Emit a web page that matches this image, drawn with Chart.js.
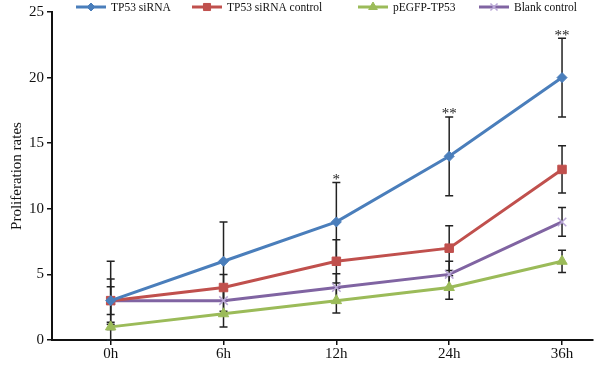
<!DOCTYPE html>
<html>
<head>
<meta charset="utf-8">
<script src="https://cdn.jsdelivr.net/npm/chart.js@4"></script>
<style>
  html, body { margin: 0; padding: 0; background: #fff; }
  #wrap { width: 600px; height: 376px; position: relative; }
</style>
</head>
<body>
<div id="wrap"><canvas id="chart"></canvas></div>
<script>
// Time points
const timeLabels = ['0h', '6h', '12h', '24h', '36h'];

// Series values (mean) and error (+/-)
const siRNA = [3, 6, 9, 14, 20];
const siRNAErr = [3, 3, 3, 3, 3];
const siRNAControl = [3, 4, 6, 7, 13];
const siRNAControlErr = [1.65, 1.0, 1.65, 1.7, 1.8];
const pEGFP = [1, 2, 3, 4, 6];
const pEGFPErr = [0.2, 1.0, 0.95, 0.9, 0.85];
const blank = [3, 3, 4, 5, 9];
const blankErr = [1.05, 0.8, 1.05, 1.0, 1.1];

// Significance marks above TP53 siRNA
const stars = ['', '', '*', '**', '**'];

const yTicks = [0, 5, 10, 15, 20, 25];

const serif = "'Liberation Serif', 'Times New Roman', serif";

const colors = {
  blue: '#4A7EBB',
  red: '#C0504D',
  green: '#9BBB59',
  purple: '#8064A2',
  purpleLight: '#B9A7D6'
};

const toPoints = (arr) => arr.map((v, i) => ({ x: i, y: v }));

// Error bars + asterisks
const errorBars = {
  id: 'errorBars',
  beforeDatasetsDraw(chart) {
    const { ctx, scales: { y } } = chart;
    ctx.save();
    ctx.strokeStyle = '#222';
    ctx.lineWidth = 1.5;
    chart.data.datasets.forEach((ds, di) => {
      const meta = chart.getDatasetMeta(di);
      meta.data.forEach((pt, i) => {
        const v = ds.data[i].y;
        const e = ds.errors[i];
        const top = y.getPixelForValue(v + e);
        const bot = y.getPixelForValue(v - e);
        ctx.beginPath();
        ctx.moveTo(pt.x, top);
        ctx.lineTo(pt.x, bot);
        ctx.moveTo(pt.x - 4, top);
        ctx.lineTo(pt.x + 4, top);
        ctx.moveTo(pt.x - 4, bot);
        ctx.lineTo(pt.x + 4, bot);
        ctx.stroke();
      });
    });
    ctx.restore();
  },
  afterDatasetsDraw(chart) {
    const { ctx, scales: { y } } = chart;
    const meta = chart.getDatasetMeta(0);
    ctx.save();
    ctx.fillStyle = '#222';
    ctx.font = '15px ' + serif;
    ctx.textAlign = 'center';
    ctx.textBaseline = 'bottom';
    meta.data.forEach((pt, i) => {
      if (!stars[i]) return;
      const top = y.getPixelForValue(siRNA[i] + siRNAErr[i]);
      ctx.fillText(stars[i], pt.x, top + 5);
    });
    ctx.restore();
  }
};

// Legend: line with marker, drawn at the top
const lineLegend = {
  id: 'lineLegend',
  afterDraw(chart, args, opts) {
    const { ctx } = chart;
    ctx.save();
    ctx.font = '11.5px ' + serif;
    ctx.textBaseline = 'middle';
    chart.data.datasets.forEach((ds, i) => {
      const x = opts.starts[i];
      const yy = opts.y;
      ctx.strokeStyle = ds.borderColor;
      ctx.lineWidth = 3;
      ctx.beginPath();
      ctx.moveTo(x, yy);
      ctx.lineTo(x + 30, yy);
      ctx.stroke();
      ctx.fillStyle = ds.pointBackgroundColor;
      ctx.strokeStyle = ds.pointBorderColor;
      ctx.lineWidth = ds.pointBorderWidth || 1;
      Chart.helpers.drawPoint(ctx, {
        pointStyle: ds.pointStyle,
        radius: ds.pointRadius - 1,
        borderWidth: ds.pointBorderWidth || 1,
        rotation: 0
      }, x + 15, yy);
      ctx.fillStyle = '#111';
      ctx.fillText(ds.label, x + 35, yy + 1);
    });
    ctx.restore();
  }
};

const ctx = document.getElementById('chart');

new Chart(ctx, {
  type: 'line',
  data: {
    datasets: [
      {
        label: 'TP53 siRNA',
        data: toPoints(siRNA),
        errors: siRNAErr,
        borderColor: colors.blue,
        backgroundColor: colors.blue,
        pointBackgroundColor: colors.blue,
        pointBorderColor: colors.blue,
        pointStyle: 'rectRot',
        pointRadius: 5,
      },
      {
        label: 'TP53 siRNA control',
        data: toPoints(siRNAControl),
        errors: siRNAControlErr,
        borderColor: colors.red,
        backgroundColor: colors.red,
        pointBackgroundColor: colors.red,
        pointBorderColor: colors.red,
        pointStyle: 'rect',
        pointRadius: 6,
      },
      {
        label: 'pEGFP-TP53',
        data: toPoints(pEGFP),
        errors: pEGFPErr,
        borderColor: colors.green,
        backgroundColor: colors.green,
        pointBackgroundColor: colors.green,
        pointBorderColor: colors.green,
        pointStyle: 'triangle',
        pointRadius: 6,
      },
      {
        label: 'Blank control',
        data: toPoints(blank),
        errors: blankErr,
        borderColor: colors.purple,
        backgroundColor: colors.purpleLight,
        pointBackgroundColor: colors.purpleLight,
        pointBorderColor: colors.purpleLight,
        pointStyle: 'crossRot',
        pointRadius: 6,
        pointBorderWidth: 1.5,
      },
    ],
  },
  options: {
    responsive: true,
    maintainAspectRatio: false,
    animation: false,
    layout: {
      padding: { top: 4, right: 0, left: 0, bottom: 13 },
    },
    elements: {
      line: { borderWidth: 3, tension: 0 },
      point: { borderWidth: 1, hoverRadius: 6 },
    },
    scales: {
      x: {
        type: 'linear',
        min: -0.52,
        max: 4.27,
        afterBuildTicks: (axis) => {
          axis.ticks = timeLabels.map((_, i) => ({ value: i }));
        },
        afterFit: (axis) => {
          axis.paddingLeft = 0;
          axis.paddingRight = 0;
        },
        ticks: {
          callback: (value) => timeLabels[value],
          color: '#111',
          font: { family: serif, size: 15 },
          padding: 0,
          maxRotation: 0,
        },
        grid: {
          drawOnChartArea: false,
          drawTicks: true,
          tickLength: 5,
          color: '#111',
          lineWidth: 1.5,
        },
        border: { color: '#111', width: 2 },
      },
      y: {
        min: 0,
        max: 25,
        afterBuildTicks: (axis) => {
          axis.ticks = yTicks.map((v) => ({ value: v }));
        },
        ticks: {
          color: '#111',
          font: { family: serif, size: 15 },
          padding: 3,
        },
        grid: {
          drawOnChartArea: false,
          drawTicks: true,
          tickLength: 5,
          color: '#111',
          lineWidth: 1.5,
        },
        border: { color: '#111', width: 2 },
        title: {
          display: true,
          text: 'Proliferation rates',
          color: '#111',
          font: { family: serif, size: 15 },
          padding: { top: 8, bottom: 0 },
        },
      },
    },
    plugins: {
      legend: { display: false },
      tooltip: { enabled: false },
      lineLegend: {
        starts: [76, 192, 358, 479],
        y: 7,
      },
    },
  },
  plugins: [errorBars, lineLegend],
});
</script>
</body>
</html>
